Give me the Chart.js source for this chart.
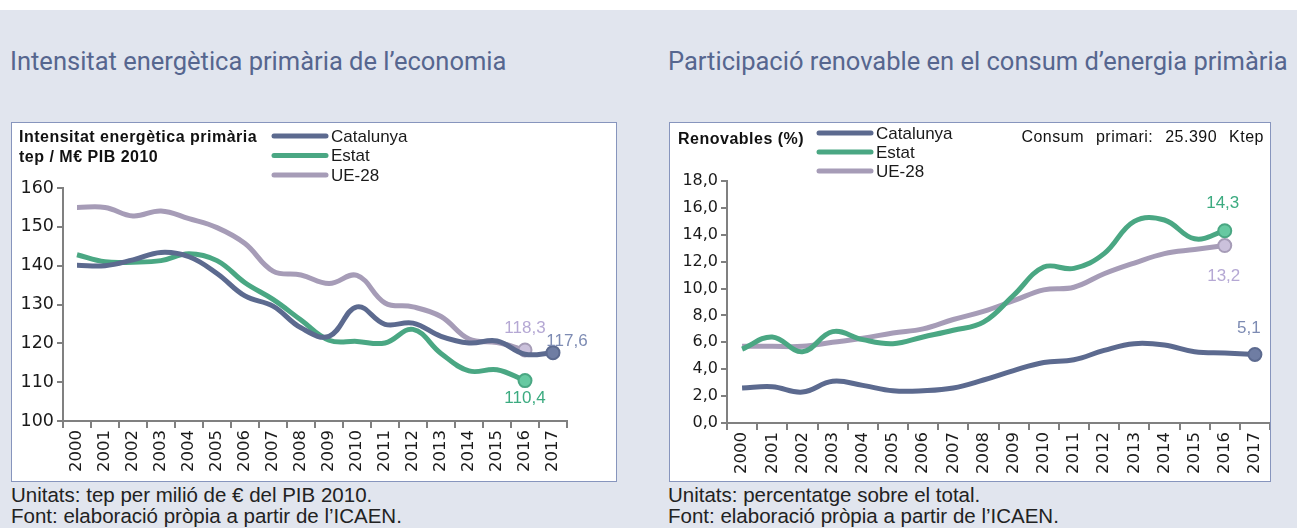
<!DOCTYPE html>
<html>
<head>
<meta charset="utf-8">
<script src="https://cdn.jsdelivr.net/npm/chart.js@4"></script>
<style>
  html, body { margin: 0; padding: 0; }
  body { width: 1297px; height: 528px; background: #e1e5ee; position: relative; overflow: hidden;
         font-family: "Liberation Sans", Arial, sans-serif; color: #1a1a1a; }
  .topband { position: absolute; left: 0; top: 0; width: 1297px; height: 10px; background: #fff; }
  .title { position: absolute; top: 46px; font-family: "Liberation Sans Narrow", "Roboto", sans-serif;
           font-size: 25.5px; line-height: 30px; color: #56668f; white-space: nowrap; }
  .box { position: absolute; top: 122px; height: 358px; background: #fff; border: 1px solid #8795bd; }
  .box canvas { position: absolute; left: 0; top: 0; }
  .inner { position: absolute; font-weight: bold; font-size: 16px; letter-spacing: 0.5px; line-height: 20px; color: #111; white-space: nowrap; }
  .note { position: absolute; font-size: 20.5px; color: #222; line-height: 21px; white-space: nowrap; }
</style>
</head>
<body>
<div class="topband"></div>
<div class="title" style="left:10px">Intensitat energètica primària de l’economia</div>
<div class="title" style="left:668px">Participació renovable en el consum d’energia primària</div>

<div class="box" style="left:11px; width:604px;">
  <canvas id="leftChart" width="604" height="358"></canvas>
  <div class="inner" style="left:7px; top:4px;">Intensitat energètica primària<br>tep / M€ PIB 2010</div>
</div>
<div class="box" style="left:669px; width:600px;">
  <canvas id="rightChart" width="600" height="358"></canvas>
  <div class="inner" style="left:8px; top:6px;">Renovables (%)</div>
  <div class="inner" style="right:6px; top:4px; font-weight:normal; letter-spacing:0.5px; word-spacing:7px;">Consum primari: 25.390 Ktep</div>
</div>

<div class="note" style="left:11px; top:484px;">Unitats: tep per milió de € del PIB 2010.<br>Font: elaboració pròpia a partir de l’ICAEN.</div>
<div class="note" style="left:668px; top:484px;">Unitats: percentatge sobre el total.<br>Font: elaboració pròpia a partir de l’ICAEN.</div>

<script>
// ─── Data ─────────────────────────────────────────────────────────────────────
const years = ['2000','2001','2002','2003','2004','2005','2006','2007','2008',
               '2009','2010','2011','2012','2013','2014','2015','2016','2017'];
const seriesNames = ['Catalunya', 'Estat', 'UE-28'];

// Intensitat energètica primària (tep / M€ PIB 2010)
const intCatalunya = [140.1, 140.0, 141.5, 143.4, 142.3, 138.0, 132.2, 129.6, 124.0,
                      121.8, 129.4, 124.9, 125.2, 121.8, 120.1, 120.6, 117.2, 117.6];
const intEstat     = [142.8, 141.0, 140.9, 141.3, 143.1, 141.3, 135.6, 131.3, 126.0,
                      120.8, 120.5, 120.1, 123.6, 117.4, 112.9, 113.2, 110.4, null];
const intUE28      = [155.0, 155.0, 152.8, 154.1, 152.1, 149.8, 145.7, 138.6, 137.6,
                      135.4, 137.5, 130.4, 129.4, 126.9, 121.1, 120.2, 118.3, null];

// Participació renovable (%)
const renCatalunya = [2.6, 2.7, 2.3, 3.1, 2.8, 2.4, 2.4, 2.6, 3.2,
                      3.9, 4.5, 4.7, 5.4, 5.9, 5.8, 5.3, 5.2, 5.1];
const renEstat     = [5.5, 6.4, 5.3, 6.8, 6.2, 5.9, 6.4, 6.9, 7.5,
                      9.5, 11.6, 11.5, 12.6, 15.0, 15.1, 13.7, 14.3, null];
const renUE28      = [5.7, 5.7, 5.7, 6.0, 6.3, 6.7, 7.0, 7.7, 8.3,
                      9.1, 9.9, 10.1, 11.1, 11.9, 12.6, 12.9, 13.2, null];

const intTicks = [100, 160, 10];
const renTicks = [0, 18, 2];

// ─── Styles ───────────────────────────────────────────────────────────────────
const lineColors  = ['#5c6a8f', '#4aa783', '#a69cb7'];
const pointFills  = ['#6f7da3', '#66c9a1', '#cbc1dc'];
const labelColors = ['#7d8bb3', '#3cab80', '#b5a8d4'];
const BASE_FONT = '"Liberation Sans", Arial, sans-serif';
const AXIS_FONT = '"DejaVu Sans", sans-serif';

function lastIndex(arr) {
  for (let i = arr.length - 1; i >= 0; i--) if (arr[i] !== null) return i;
  return -1;
}

function fmt(v, dec) {
  return v.toFixed(dec).replace('.', ',');
}

function makeDatasets(arrays) {
  return arrays.map((data, k) => {
    const li = lastIndex(data);
    return {
      label: seriesNames[k],
      data,
      borderColor: lineColors[k],
      backgroundColor: pointFills[k],
      borderWidth: 5,
      tension: 0.4,
      pointRadius: c => (c.dataIndex === li ? 6.5 : 0),
      pointBorderWidth: 2,
      pointBorderColor: lineColors[k],
      pointBackgroundColor: pointFills[k],
      spanGaps: false,
    };
  });
}

// legend + end labels drawn on the canvas
const decorPlugin = {
  id: 'decor',
  afterDatasetsDraw(chart, args, opts) {
    const ctx = chart.ctx;
    ctx.save();
    // legend
    chart.data.datasets.forEach((ds, k) => {
      const y = opts.legendY + k * opts.legendGap;
      ctx.strokeStyle = ds.borderColor;
      ctx.lineWidth = 5;
      ctx.lineCap = 'round';
      ctx.beginPath();
      ctx.moveTo(opts.legendX, y);
      ctx.lineTo(opts.legendX + 52, y);
      ctx.stroke();
      ctx.fillStyle = '#1a1a1a';
      ctx.font = '17px ' + BASE_FONT;
      ctx.textBaseline = 'middle';
      ctx.textAlign = 'left';
      ctx.fillText(ds.label, opts.legendX + 57, y + 1);
    });
    // end-value labels
    ctx.font = '17px ' + BASE_FONT;
    ctx.textAlign = 'center';
    ctx.textBaseline = 'middle';
    chart.data.datasets.forEach((ds, k) => {
      const li = lastIndex(ds.data);
      const pt = chart.getDatasetMeta(k).data[li];
      const off = opts.offsets[k];
      ctx.fillStyle = labelColors[k];
      ctx.fillText(fmt(ds.data[li], 1), pt.x + off[0], pt.y + off[1]);
    });
    ctx.restore();
  }
};

function buildChart(id, arrays, ticks, geo, decor) {
  const [ymin, ymax, step] = ticks;
  return new Chart(document.getElementById(id), {
    type: 'line',
    data: { labels: years, datasets: makeDatasets(arrays) },
    plugins: [decorPlugin],
    options: {
      responsive: false,
      animation: false,
      layout: { autoPadding: false, padding: { top: geo.top, right: geo.right, left: 0, bottom: 0 } },
      plugins: {
        legend: { display: false },
        tooltip: { enabled: false },
        decor,
      },
      scales: {
        x: {
          offset: true,
          grid: { offset: true, drawOnChartArea: false, color: '#808080', lineWidth: 2, tickLength: 7 },
          border: { color: '#808080', width: 2 },
          ticks: { color: '#1a1a1a', font: { size: 16.5, family: AXIS_FONT }, minRotation: 90, maxRotation: 90, padding: 2, autoSkip: false },
          afterFit: s => { s.height = geo.bottom; s.paddingLeft = 0; s.paddingRight = 0; },
        },
        y: {
          min: ymin, max: ymax,
          grid: { drawOnChartArea: false, color: '#808080', lineWidth: 2, tickLength: 6 },
          border: { color: '#808080', width: 2 },
          ticks: {
            stepSize: step,
            color: '#1a1a1a',
            padding: 3,
            font: { size: geo.yFont, family: AXIS_FONT },
            callback: v => (geo.dec ? fmt(v, geo.dec) : v),
          },
          afterFit: s => { s.width = geo.left; },
        },
      },
    },
  });
}

buildChart('leftChart', [intCatalunya, intEstat, intUE28], intTicks,
  { top: 65, right: 49, left: 51, bottom: 60, dec: 0, yFont: 17.5 },
  { legendX: 262, legendY: 13, legendGap: 19.5, offsets: [[14, -11], [0, 18], [0, -22]] });

buildChart('rightChart', [renCatalunya, renEstat, renUE28], renTicks,
  { top: 58, right: 0, left: 57, bottom: 58, dec: 1, yFont: 16 },
  { legendX: 149, legendY: 10, legendGap: 19, offsets: [[-6, -26], [-2, -27], [-1, 31]] });
</script>
</body>
</html>
